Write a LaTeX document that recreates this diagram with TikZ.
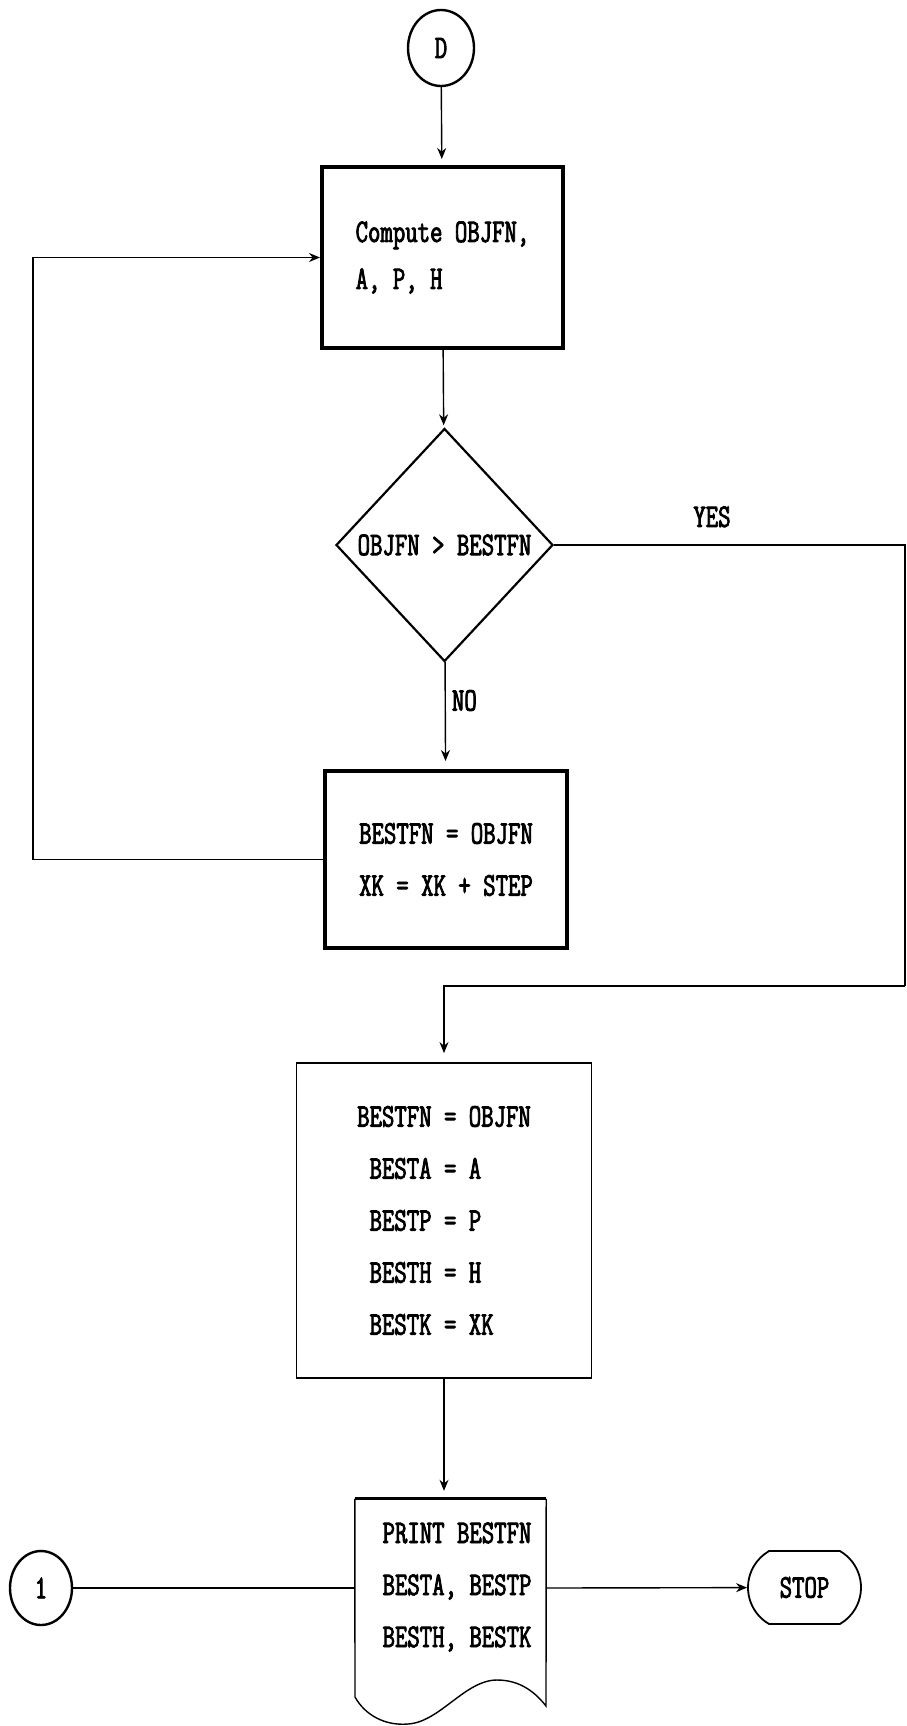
\documentclass[tikz,border=0pt]{standalone}
\usepackage{fontspec}
\newfontfamily\dotfont{Latin Modern Mono}[FakeStretch=0.73,FakeBold=2.5]
\usetikzlibrary{positioning,arrows.meta,shapes.geometric,shapes.misc}

\begin{document}
\begin{tikzpicture}[
  x=1pt, y=-1pt,
  txt/.style={font=\dotfont\fontsize{33}{52}\selectfont, inner sep=0pt},
  stepbox/.style={draw, line width=4pt, txt, align=left},
  plainbox/.style={draw, line width=1.8pt, txt, align=left},
  conn/.style={draw, ellipse, line width=2.4pt, txt, minimum width=66pt, minimum height=76pt},
  dec/.style={draw, diamond, line width=2.2pt, txt, minimum width=217pt, minimum height=233pt},
  term/.style={draw, rounded rectangle, rounded rectangle arc length=120, line width=1.8pt, txt,
               minimum width=113pt, minimum height=73pt},
  line/.style={line width=1.4pt},
  arr/.style={line, -{Stealth[length=11pt,width=9pt]}}
]
\useasboundingbox (0,0) rectangle (906,1726);

% loop part
\node[conn] (d) at (441,48) {D};
\node[stepbox, minimum width=241pt, minimum height=181pt] (comp) at (442.5,257.5)
  {Compute OBJFN,\\[-5pt]A, P, H};
\node[dec] (test) at (444.5,545) {\makebox[0pt]{OBJFN > BESTFN}};
\node[stepbox, minimum width=242pt, minimum height=177pt] (upd) at (446,859.5)
  {BESTFN = OBJFN\\XK = XK + STEP};

% best values and output
\node[plainbox, minimum width=295pt, minimum height=315pt] (best) at (444,1220.5)
  {BESTFN = OBJFN\\\phantom{B}BESTA = A\\\phantom{B}BESTP = P\\\phantom{B}BESTH = H\\\phantom{B}BESTK = XK};
\node[inner sep=0pt, minimum width=191pt, minimum height=218pt] (print) at (450.5,1608) {};
\node[txt, align=left] (ptext) at (457,1587) {PRINT BESTFN\\BESTA, BESTP\\BESTH, BESTK};
\node[term] (stop) at (804.5,1587.5) {STOP};
\node[conn, minimum width=62pt, minimum height=74pt] (one) at (41,1588) {1};

\coordinate (rc) at (905,986);
\coordinate (lx) at (33,0);

\draw[arr, shorten >=6pt] (d) -- (comp);
\draw[arr, shorten >=3pt] (comp) -- (test);
\draw[arr, shorten >=8pt] (test) -- node[txt, right=6pt, pos=0.36] {NO} (upd);
\draw[arr] (upd.west) -| (lx |- comp.west) -- (comp.west);
\draw[line] (test.east) -- node[txt, above=17pt, pos=0.45] {YES} (test.east -| rc) -- (rc);
\draw[arr, shorten >=9pt] (rc) -- (rc -| best.north) -- (best.north);
\draw[arr, shorten >=8pt] (best.south) -- (best.south |- print.north);

% document outline
\draw[line] (355,1697) -- (print.north west);
\draw[line width=3pt] (print.north west) -- (print.north east);
\draw[line] (print.north east) -- (546,1706)
  .. controls (535,1692) and (520,1680) .. (497,1680)
  .. controls (465,1680) and (440,1722) .. (408,1724)
  .. controls (385,1726) and (365,1715) .. (355,1697);

\draw[line] (one) -- (one -| print.west);
\draw[arr] (one -| print.east) -- (stop);
\end{tikzpicture}
\end{document}
